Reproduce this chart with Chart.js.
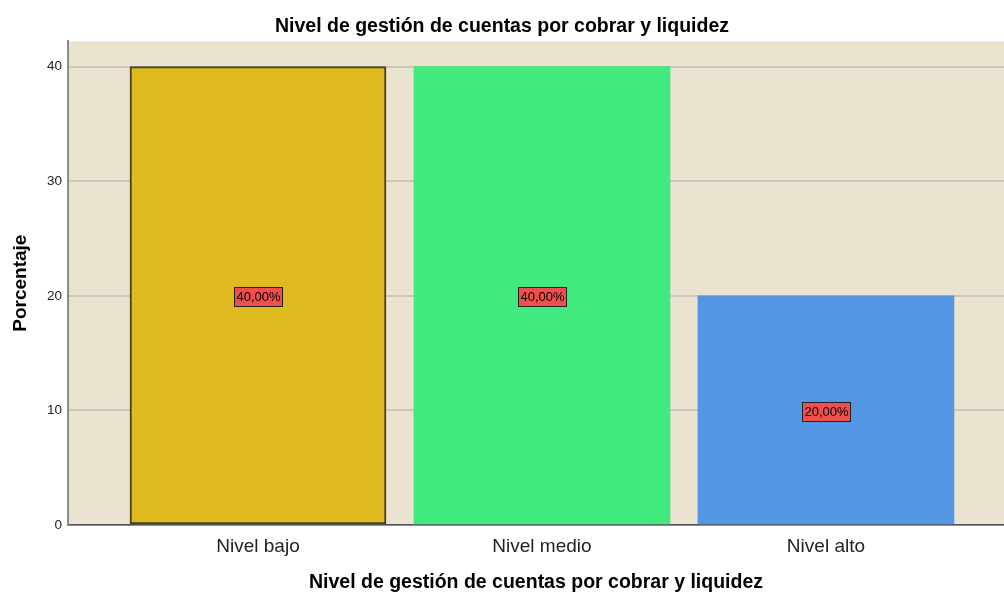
<!DOCTYPE html>
<html><head><meta charset="utf-8">
<script src="https://cdn.jsdelivr.net/npm/chart.js@4/dist/chart.umd.min.js"></script>
<style>html,body{margin:0;padding:0;background:#fff}#wrap{width:1004px;height:595px}</style>
</head><body><div id="wrap"><canvas id="c"></canvas></div>
<script>
const categories = ["Nivel bajo", "Nivel medio", "Nivel alto"];
const percentages = [40, 40, 20];
const barColors = ["#dfbb1f", "#41e97f", "#5396e3"];
const borderColors = ["#4a3f24", "rgba(0,0,0,0)", "rgba(0,0,0,0)"];
const borderWidths = [2, 0, 0];
const yTicks = [0, 10, 20, 30, 40];
const chartTitle = "Nivel de gestión de cuentas por cobrar y liquidez";
const xTitle = "Nivel de gestión de cuentas por cobrar y liquidez";
const yTitle = "Porcentaje";

const FONT = "Arial, 'Liberation Sans', sans-serif";

const bgPlugin = {
  id: 'bg',
  beforeDraw(chart) {
    const {ctx, chartArea: a} = chart;
    ctx.save();
    ctx.fillStyle = '#eae3cf';
    ctx.fillRect(a.left, a.top, a.right - a.left, a.bottom - a.top);
    ctx.restore();
  }
};

const labelPlugin = {
  id: 'lbl',
  afterDatasetsDraw(chart) {
    const {ctx} = chart;
    const meta = chart.getDatasetMeta(0);
    const ys = chart.scales.y;
    ctx.save();
    ctx.font = "13px " + FONT;
    ctx.textAlign = 'center';
    ctx.textBaseline = 'middle';
    meta.data.forEach((bar, i) => {
      const v = percentages[i];
      const txt = v.toFixed(2).replace('.', ',') + '%';
      const y = ys.getPixelForValue(v / 2);
      const w = Math.round(ctx.measureText(txt).width + 4);
      const h = 19;
      const x = Math.round(bar.x);
      const x0 = Math.round(x - w / 2), y0 = Math.round(y - h / 2) + 1;
      ctx.fillStyle = '#ef4f4f';
      ctx.fillRect(x0, y0, w, h);
      ctx.strokeStyle = '#222';
      ctx.lineWidth = 1;
      ctx.strokeRect(x0 + 0.5, y0 + 0.5, w, h);
      ctx.fillStyle = '#000';
      ctx.fillText(txt, x + 0.5, y0 + h / 2 + 1);
    });
    ctx.restore();
  }
};

new Chart(document.getElementById('c'), {
  type: 'bar',
  data: {
    datasets: [{
      data: percentages.map((v, i) => ({x: i, y: v})),
      backgroundColor: barColors,
      borderColor: borderColors,
      borderWidth: borderWidths,
      barThickness: 256,
      borderSkipped: false
    }]
  },
  options: {
    responsive: true,
    maintainAspectRatio: false,
    animation: false,
    layout: {padding: {left: 0, right: 0, top: 0, bottom: 0}},
    plugins: {
      legend: {display: false},
      tooltip: {enabled: false},
      title: {
        display: true,
        text: chartTitle,
        color: '#000',
        font: {family: FONT, size: 19.5, weight: 'bold'},
        padding: {top: 15, bottom: 3}
      }
    },
    scales: {
      x: {
        type: 'linear',
        offset: false,
        min: -0.669,
        max: 2.627,
        afterBuildTicks(s) { s.ticks = categories.map((c, i) => ({value: i})); },
        afterFit(s) { s.height = 70; },
        ticks: {
          callback: (v) => categories[v],
          color: '#222',
          font: {family: FONT, size: 19},
          padding: 10,
          maxRotation: 0,
          autoSkip: false
        },
        grid: {display: false, drawTicks: false},
        border: {display: true, color: '#555', width: 1.5},
        title: {
          display: true,
          text: xTitle,
          color: '#000',
          font: {family: FONT, size: 19.5, weight: 'bold'},
          padding: {top: 4, bottom: 1}
        }
      },
      y: {
        min: 0,
        max: 42.2,
        afterBuildTicks(s) { s.ticks = yTicks.map(v => ({value: v})); },
        afterFit(s) { s.width = 68; },
        ticks: {
          color: '#222',
          font: {family: FONT, size: 13.5},
          padding: 6
        },
        grid: {color: '#cbc6b8', lineWidth: 2, drawTicks: false},
        border: {display: true, color: '#8c8c88', width: 2},
        title: {
          display: true,
          text: yTitle,
          color: '#000',
          font: {family: FONT, size: 19, weight: 'bold'},
          padding: {top: 9, bottom: 0}
        }
      }
    }
  },
  plugins: [bgPlugin, labelPlugin]
});
</script></body></html>
